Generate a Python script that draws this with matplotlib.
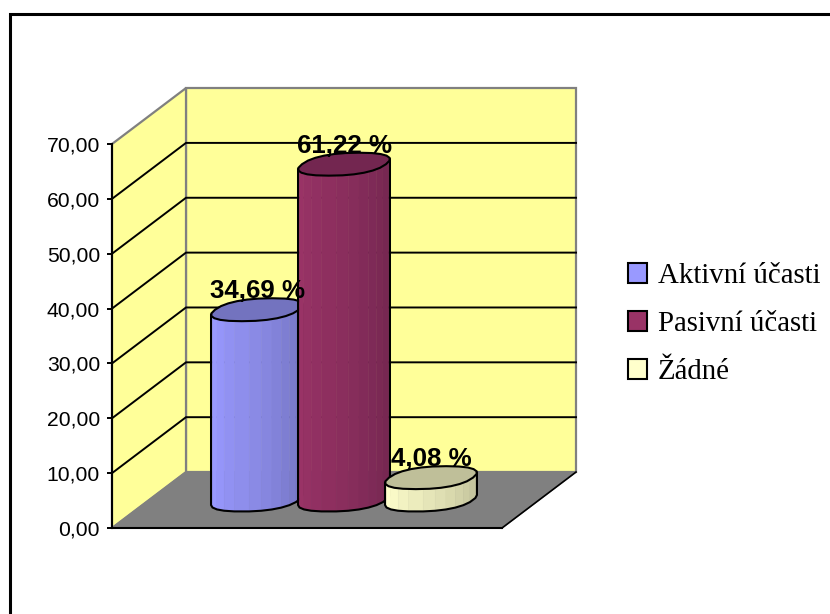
import numpy as np
import matplotlib
matplotlib.use("Agg")
import matplotlib.pyplot as plt
from matplotlib.patches import Polygon, Patch
from matplotlib.lines import Line2D
from matplotlib.colors import to_rgb

W, H = 830, 614

# Survey shares per answer
names = ["Aktivní účasti", "Pasivní účasti", "Žádné"]
values = [34.69, 61.22, 4.08]
yticks = [0, 10, 20, 30, 40, 50, 60, 70]
ytick_labels = ["0,00", "10,00", "20,00", "30,00", "40,00", "50,00", "60,00", "70,00"]

light = ["#9999FF", "#993366", "#FFFFCC"]
dark = ["#7373BF", "#732650", "#BFBF99"]

fig = plt.figure(figsize=(W / 100, H / 100), dpi=100)

# Black frame, only the left and top edges are inside the figure
fig.add_artist(Line2D([9.5 / W, 9.5 / W, 1], [0, 1 - 13.5 / H, 1 - 13.5 / H], transform=fig.transFigure,
                      color="black", lw=2.2, solid_joinstyle="miter"))

# Axes cover the front plane of the 3D box
ax = fig.add_axes([112 / W, (H - 528) / H, 390 / W, 384 / H])
ax.set_xlim(0, 1)
ax.set_ylim(0, 70)
ax.patch.set_visible(False)

# Oblique depth of the box in data units
DX = 74 / 390
DY = 10.2
top = yticks[-1]

# Walls and floor
ax.add_patch(Polygon([(DX, DY), (1 + DX, DY), (1 + DX, top + DY), (DX, top + DY)], fc="#FFFF99", ec="#808080", lw=1.6, clip_on=False, zorder=1))
ax.add_patch(Polygon([(0, 0), (DX, DY), (DX, top + DY), (0, top)], fc="#FFFF99", ec="#808080", lw=1.6, clip_on=False, zorder=1))
ax.add_patch(Polygon([(0, 0), (1, 0), (1 + DX, DY), (DX, DY)], fc="#808080", ec="#808080", lw=1.0, clip_on=False, zorder=1.1))
ax.plot([1, 1 + DX], [0, DY], color="black", lw=1.2, clip_on=False, zorder=1.2)

# Gridlines run along the left wall and then the back wall
for v in yticks[1:-1]:
    ax.plot([0, DX, 1 + DX], [v, v + DY, v + DY], color="black", lw=1.4, clip_on=False, zorder=1.5, solid_joinstyle="miter")

# Cylinders
a = 42 / 390
b = 0.205
spacing = 87 / 390
n_facets = 12
power = 0.85  # slightly squared-off caps


def ring(cx, level, t):
    c = np.sign(np.cos(t)) * np.abs(np.cos(t)) ** power
    s = np.sign(np.sin(t)) * np.abs(np.sin(t)) ** power
    x = cx + 0.5 * DX + a * c + b * DX * s
    y = level + (0.5 + b * s) * DY
    return x, y


# Angle of the right silhouette edge
dense = np.linspace(0, np.pi / 2, 400)
t0 = dense[np.argmax(ring(0, 0, dense)[0])]

for i, v in enumerate(values):
    cx = 0.5 + (i - 1) * spacing
    z = 3 + i
    t = np.linspace(t0 + np.pi, t0 + 2 * np.pi, n_facets + 1)
    xb, yb = ring(cx, 0, t)
    xt, yt = ring(cx, v, t)
    c0, c1 = np.array(to_rgb(light[i])), np.array(to_rgb(dark[i]))
    for k in range(n_facets):
        shade = max(0, (k - 1) / (n_facets - 2))
        col = c0 + (c1 - c0) * min(shade, 1)
        ax.add_patch(Polygon([(xb[k], yb[k]), (xb[k + 1], yb[k + 1]), (xt[k + 1], yt[k + 1]), (xt[k], yt[k])],
                             fc=col, ec=col, lw=0.4, clip_on=False, zorder=z))
    # side outline
    ax.plot(np.r_[xt[0], xb, xt[-1]], np.r_[yt[0], yb, yt[-1]], color="black", lw=1.5, clip_on=False, zorder=z + 0.1, solid_joinstyle="round")
    # top cap
    tc = np.linspace(0, 2 * np.pi, 2 * n_facets + 1)[:-1]
    xc, yc = ring(cx, v, tc)
    ax.add_patch(Polygon(np.c_[xc, yc], fc=dark[i], ec="black", lw=1.5, clip_on=False, zorder=z + 0.2))

# Value labels sit on top of each cap
for i, v in enumerate(values):
    cx = 0.5 + (i - 1) * spacing + 0.5 * DX
    ax.annotate(f"{v:.2f} %".replace(".", ","), xy=(cx, v + 0.5 * DY), xytext=(0, 8.3), textcoords="offset points",
                ha="center", va="baseline", family="Liberation Sans", weight="bold", fontsize=18.6, zorder=10, annotation_clip=False)

# Value axis
for s in ["top", "right"]:
    ax.spines[s].set_visible(False)
for s in ["left", "bottom"]:
    ax.spines[s].set_color("black")
    ax.spines[s].set_linewidth(1.5)
    ax.spines[s].set_zorder(2)
ax.set_xticks([])
ax.set_yticks(yticks)
ax.set_yticklabels(ytick_labels, family="Liberation Sans", fontsize=15.2)
ax.tick_params(axis="y", length=3.6, width=1.4, pad=5, color="black")

# Legend on the right
handles = [Patch(fc=light[i], ec="black", lw=1.5, label=names[i]) for i in range(3)]
fig.legend(handles=handles, loc="upper left", bbox_to_anchor=(628 / W, 1 - 263 / H), frameon=False, borderpad=0, borderaxespad=0,
           prop={"family": "Liberation Serif", "size": 20.8}, handlelength=0.66, handleheight=0.66, handletextpad=0.38, labelspacing=0.76)

fig.savefig("out.png", dpi=100)
